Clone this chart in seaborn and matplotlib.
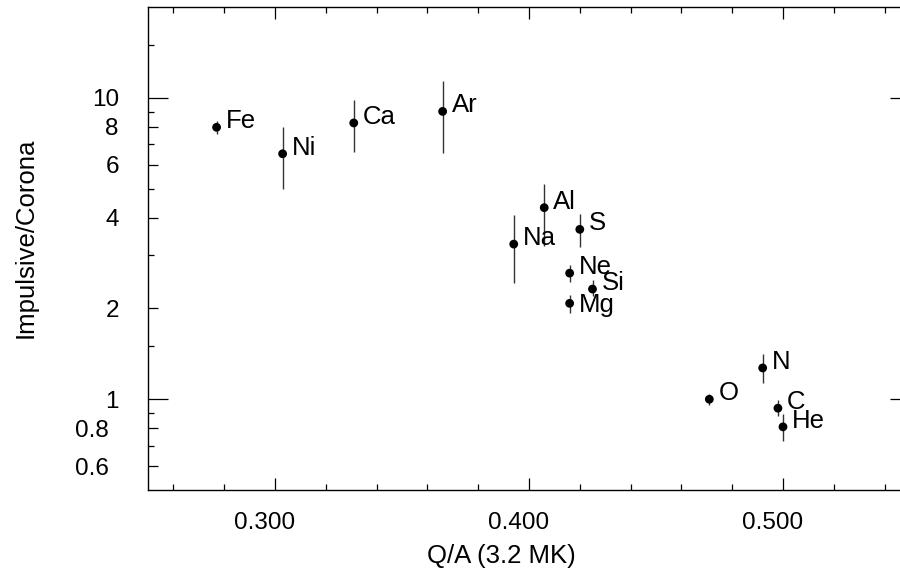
import numpy as np
import pandas as pd
import matplotlib
matplotlib.use("Agg")
import matplotlib.pyplot as plt
import matplotlib.ticker as mticker
from matplotlib.transforms import ScaledTranslation
import seaborn as sns

# valores
elementos = ['Fe', 'Ni', 'Ca', 'Ar', 'Na', 'Al', 'S', 'Ne', 'Si', 'Mg', 'O', 'N', 'C', 'He']
q_a = [0.277, 0.303, 0.331, 0.366, 0.394, 0.406, 0.420, 0.416, 0.425, 0.416, 0.471, 0.492, 0.498, 0.500]
razao = [7.98, 6.52, 8.25, 9.01, 3.27, 4.32, 3.66, 2.62, 2.32, 2.08, 1.00, 1.27, 0.934, 0.81]
razao_min = [7.59, 5.00, 6.63, 6.55, 2.43, 3.22, 3.19, 2.44, 2.20, 1.93, 0.96, 1.13, 0.877, 0.728]
razao_max = [8.36, 8.02, 9.83, 11.4, 4.08, 5.16, 4.13, 2.79, 2.49, 2.22, 1.04, 1.41, 0.995, 0.892]

y_ticks = [0.6, 0.8, 1, 2, 4, 6, 8, 10]
y_minor = [0.7, 0.9, 1.5, 3, 5, 7, 9, 15]
x_ticks = [0.3, 0.4, 0.5]

df = pd.DataFrame({'elemento': elementos, 'qa': q_a, 'razao': razao,
                   'rmin': razao_min, 'rmax': razao_max})

sns.set_theme(style='ticks')
plt.rcParams['font.family'] = ['Liberation Sans', 'DejaVu Sans']
plt.rcParams['text.color'] = 'black'
plt.rcParams['axes.labelcolor'] = 'black'
plt.rcParams['xtick.color'] = 'black'
plt.rcParams['ytick.color'] = 'black'

fig = plt.figure(figsize=(9, 5.69), dpi=100)
ax = fig.add_axes([148/900, 79/569, 762/900, 483/569])

ax.vlines(df['qa'], df['rmin'], df['rmax'], color='#333333', linewidth=1.0, zorder=2)
sns.scatterplot(data=df, x='qa', y='razao', ax=ax, color='black', s=40,
                edgecolor='none', zorder=3, legend=False)

for _, row in df.iterrows():
    dy = -6.5 if row['elemento'] == 'Mg' else -0.7
    ax.annotate(row['elemento'], (row['qa'], row['razao']), xytext=(6.5, dy),
                textcoords='offset points', ha='left', va='baseline', fontsize=18.5,
                color='black')

ax.set_yscale('log')
ax.set_xlim(0.25, 0.55)
ax.set_ylim(0.5, 20)

ax.xaxis.set_major_locator(mticker.FixedLocator(x_ticks))
ax.xaxis.set_major_formatter(mticker.FixedFormatter(['0.300', '0.400', '0.500']))
ax.xaxis.set_minor_locator(mticker.MultipleLocator(0.02))
ax.yaxis.set_major_locator(mticker.FixedLocator(y_ticks))
ax.yaxis.set_major_formatter(mticker.FixedFormatter([str(v) for v in y_ticks]))
ax.yaxis.set_minor_locator(mticker.FixedLocator(y_minor))
ax.yaxis.set_minor_formatter(mticker.NullFormatter())

ax.tick_params(which='both', direction='in', top=True, right=True, color='black',
               labelcolor='black', width=0.9, labelsize=17.5)
ax.tick_params(axis='x', which='major', length=8.6, pad=16)
ax.tick_params(axis='x', which='minor', length=4.3)
ax.tick_params(axis='y', which='major', length=7.2, pad=21)
ax.tick_params(axis='y', which='minor', length=4.3)

for s in ax.spines.values():
    s.set_color('black')
    s.set_linewidth(1.0)

ax.set_xlabel('Q/A (3.2 MK)', fontsize=18.5)
ax.set_ylabel('Impulsive/Corona', fontsize=18.5)
ax.xaxis.set_label_coords(0.464, -0.112)
ax.yaxis.set_label_coords(-0.145, 0.522)

fig.canvas.draw()
# marcas de decada mais longas
for tick, v in zip(ax.yaxis.get_major_ticks(), y_ticks):
    if v in (1, 10):
        tick.tick1line.set_markersize(14.4)
        tick.tick2line.set_markersize(14.4)
    if v < 1:
        tick.label1.set_transform(tick.label1.get_transform() +
                                  ScaledTranslation(-0.10, 0, fig.dpi_scale_trans))
for tick in ax.xaxis.get_major_ticks():
    tick.label1.set_transform(tick.label1.get_transform() +
                              ScaledTranslation(-0.10, 0, fig.dpi_scale_trans))

fig.savefig('out.png', dpi=100)
